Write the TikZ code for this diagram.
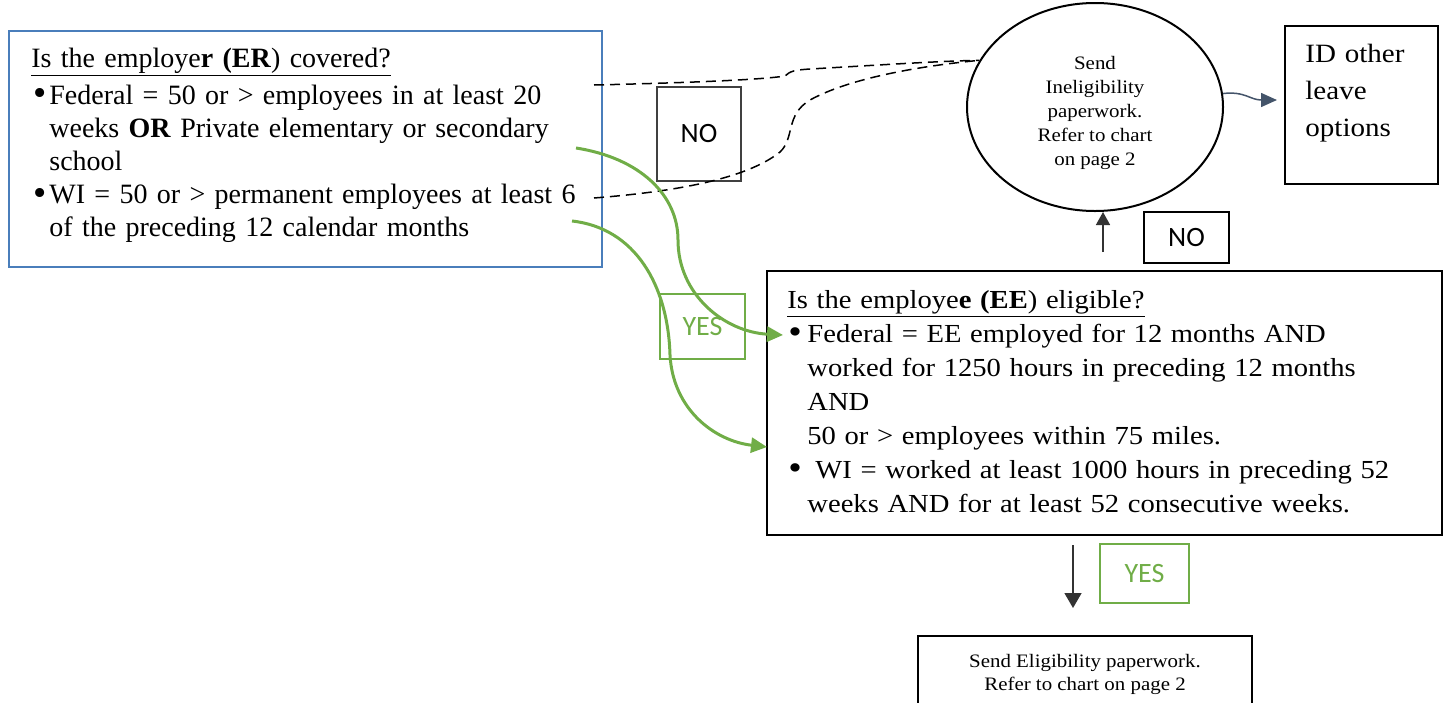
\documentclass[tikz,border=0pt]{standalone}
\usepackage{fontspec}
\usepackage{graphicx}
\setmainfont{Liberation Serif}[FakeStretch=1.1]
\newfontfamily\erfont{Liberation Serif}
\newfontfamily\calib{Carlito}
\usetikzlibrary{shapes.geometric,arrows.meta}
\definecolor{erblue}{RGB}{74,126,187}
\definecolor{yesgreen}{RGB}{112,173,71}
\definecolor{arrowgray}{RGB}{68,84,106}
\newcommand{\bigbul}{\raisebox{-0.12ex}{\scalebox{1.35}{\textbullet}}}
\begin{document}
\begin{tikzpicture}[x=0.5pt,y=-0.5pt,
  box/.style={draw=black,line width=1pt,inner sep=0pt},
  txt/.style={inner sep=0pt,align=left},
  lbl/.style={font=\calib\fontsize{14}{14}\selectfont,inner sep=0pt},
  nobox/.style={lbl,draw=black!75,line width=1pt},
  yesbox/.style={lbl,draw=yesgreen,line width=1pt,text=yesgreen},
  yesarrow/.style={draw=yesgreen,line width=1.5pt,-{Triangle[length=8pt,width=7.5pt]}},
  dashline/.style={draw=black,line width=0.75pt,dash pattern=on 5pt off 3pt},
  blkarrow/.style={draw=black!80,line width=0.75pt},
]
\useasboundingbox (0,0) rectangle (1444,702);
\clip (0,0) rectangle (1444,702);

% employer box
\node[draw=erblue,line width=1pt,inner sep=0pt,minimum width=296.5pt,minimum height=118pt,anchor=north west] (er) at (8,30) {};
\node[txt,anchor=base west,text width=330pt,font=\erfont\fontsize{14}{16.6}\selectfont] (ertext) at (31,67)
{\underline{Is the employe\textbf{r (ER})\ covered?}\par\vspace{1.9pt}
\noindent\hangindent=9pt\hangafter=1\makebox[9pt][l]{\hspace{1pt}\bigbul}Federal = 50 or > employees in at least 20\newline weeks \textbf{OR} Private elementary or secondary\newline school\par
\noindent\hangindent=9pt\hangafter=1\makebox[9pt][l]{\hspace{1pt}\bigbul}WI = 50 or > permanent employees at least 6\newline of the preceding 12 calendar months\par};

% employee box
\node[box,minimum width=337.5pt,minimum height=132pt,anchor=north west] (ee) at (766,270) {};
\node[txt,anchor=base west,text width=330pt,font=\fontsize{13}{17}\selectfont] (eetext) at (787,308)
{\underline{Is the employe\textbf{e (EE})\ eligible?}\par
\noindent\hangindent=10pt\hangafter=1\makebox[10pt][l]{\hspace{0.5pt}\bigbul}Federal = EE employed for 12 months AND\newline worked for 1250 hours in preceding 12 months\newline AND\newline 50 or > employees within 75 miles.\par
\noindent\hangindent=10pt\hangafter=1\makebox[10pt][l]{\hspace{0.5pt}\bigbul}\hspace{4pt}WI = worked at least 1000 hours in preceding 52\newline weeks AND for at least 52 consecutive weeks.\par};

% ineligibility ellipse
\node[draw=black,line width=1pt,ellipse,minimum width=128pt,minimum height=104pt,inner sep=0pt] (ine) at (1095,107) {};
\node[align=center,inner sep=0pt,font=\fontsize{9.5}{12}\selectfont] (inetext) at (1095,113)
{Send\\Ineligibility\\paperwork.\\Refer to chart\\on page 2};

% ID other leave options
\node[box,minimum width=76.5pt,minimum height=79pt,anchor=north west] (id) at (1284,25) {};
\node[txt,anchor=base west,text width=70pt,font=\fontsize{13.2}{18.7}\selectfont] (idtext) at (1305,62) {ID other\\leave\\options};

% eligibility box
\node[box,minimum width=167pt,minimum height=38.5pt,align=center,font=\fontsize{9.5}{11.5}\selectfont] (elig) at (1085,674.5)
{Send Eligibility paperwork.\\Refer to chart on page 2};

% labels
\node[nobox,minimum width=42pt,minimum height=47pt] (no1) at (699,134) {NO};
\node[nobox,draw=black,minimum width=42.5pt,minimum height=25.5pt] (no2) at (1186.5,237.5) {NO};
\node[yesbox,minimum width=42.5pt,minimum height=32.5pt] (yes1) at (702.5,326.5) {YES};
\node[yesbox,minimum width=44.5pt,minimum height=29.5pt] (yes2) at (1144.5,573.5) {YES};

% free ends
\coordinate (d1) at (594,85);
\coordinate (d2) at (594,198);
\coordinate (g1) at (576,148);
\coordinate (g2) at (572,221);
\coordinate (g1e) at (783,335);
\coordinate (g2e) at (767,447);
\coordinate (up1) at (1103,252);
\coordinate (dn1) at (1073,545);
\coordinate (dn2) at (1073,608);
\coordinate (ide) at (1277,100);

% dashed NO connectors
\draw[dashline] (d1) .. controls (680,83) and (760,80) .. (785,76)
  .. controls (790,71) and (795,70) .. (810,69)
  .. controls (880,65) and (940,61) .. (ine.158);
\draw[dashline] (d2) .. controls (670,192) and (745,180) .. (780,152)
  .. controls (795,138) and (785,115) .. (810,100)
  .. controls (850,78) and (920,66) .. (ine.158);

% green YES connectors
\draw[yesarrow] (g1) .. controls (640,158) and (678,195) .. (678,240)
  .. controls (678,295) and (725,332) .. (g1e);
\draw[yesarrow] (g2) .. controls (635,228) and (668,285) .. (670,355)
  .. controls (673,410) and (715,441) .. (g2e);

% black arrows
\draw[blkarrow,-{Triangle[length=6.5pt,width=7pt]}] (up1) -- (ine.south -| up1);
\draw[blkarrow,-{Triangle[length=7.5pt,width=8.5pt]}] (dn1) -- (dn2);
\draw[draw=arrowgray,line width=0.75pt,-{Triangle[length=8pt,width=7pt]}] (ine.6) .. controls (1245,91) and (1250,100) .. (ide);
\end{tikzpicture}
\end{document}
